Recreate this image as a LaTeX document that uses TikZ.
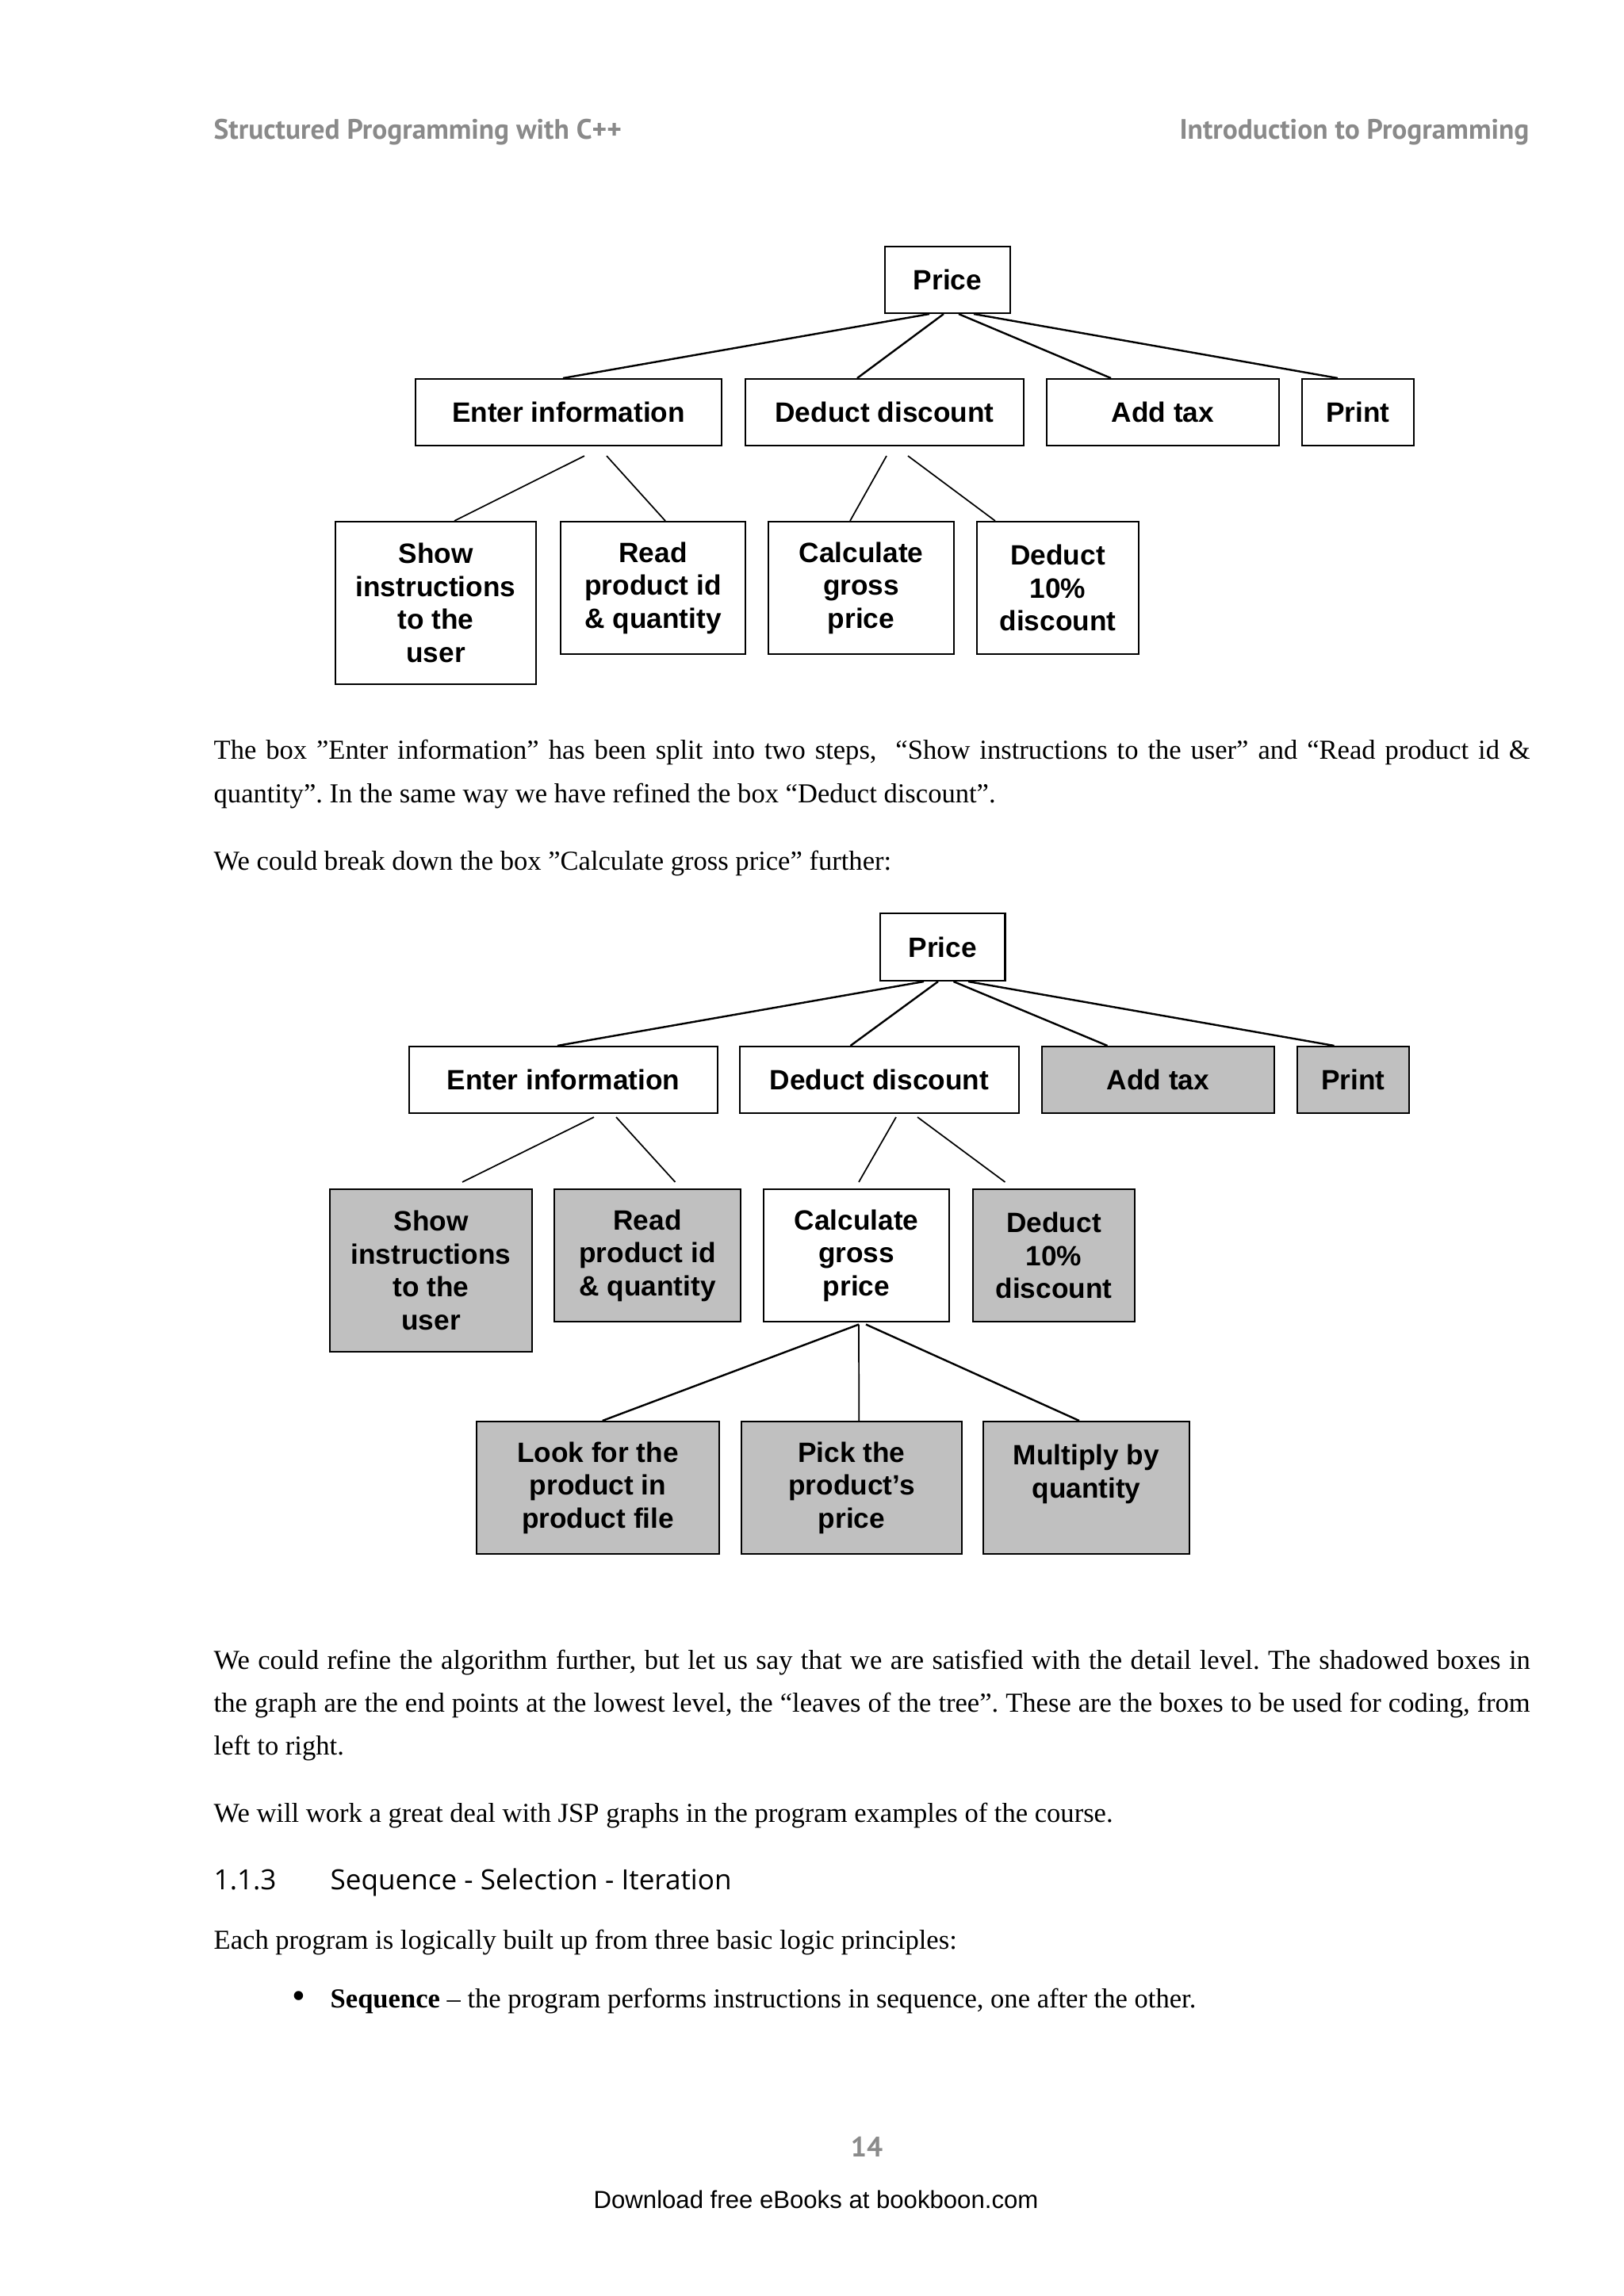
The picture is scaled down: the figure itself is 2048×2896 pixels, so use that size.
\documentclass[tikz,border=0pt]{standalone}
\usepackage{fontspec}
\setmainfont{Liberation Serif}
\newfontfamily\arialf{Liberation Sans}
\newfontfamily\hdrf{PT Sans}
\newfontfamily\headf{Open Sans}
\usetikzlibrary{calc}
\definecolor{hdrgray}{RGB}{138,138,138}
\definecolor{leafgray}{RGB}{192,192,192}
\newlength\pxu
\setlength\pxu{0.2907pt}
\newcommand\jbox[7]{%
  \node[jb,#6,minimum width={(#4-#2)*0.2907pt},minimum height={(#5-#3)*0.2907pt}]
    (#1) at ({(#2+#4)/2},{(#3+#5)/2}) {#7};}
\tikzset{
  jb/.style={draw=black,line width=0.6pt,inner sep=0pt,align=center,
    font=\arialf\bfseries\fontsize{10.25}{12.1}\selectfont},
  plain/.style={fill=white},
  leaf/.style={fill=leafgray},
  topconn/.style={line width=0.7pt},
  conn/.style={line width=0.5pt},
  body/.style={anchor=base west,inner sep=0pt,font=\fontsize{10.05}{12}\selectfont},
  hdr/.style={inner sep=0pt,text=hdrgray,font=\hdrf\bfseries\fontsize{10.3}{12}\selectfont}
}
\begin{document}
\frenchspacing
\begin{tikzpicture}[x=0.2907pt,y=-0.2907pt]
\useasboundingbox (0,0) rectangle (2048,2896);
\fill[white] (0,0) rectangle (2048,2896);

% header
\node[hdr,anchor=base west] (hl) at (269,175) {Structured Programming with C++};
\node[hdr,anchor=base east] (hr) at (1929,175) {Introduction to Programming};

\begin{scope}[shift={(-2,0)}]
% ---------- diagram 1 ----------
\jbox{p1}{1118}{311}{1276}{395}{plain}{Price}
\jbox{e1}{526}{478}{912}{562}{plain}{Enter information}
\jbox{d1}{942}{478}{1293}{562}{plain}{Deduct discount}
\jbox{a1}{1322}{478}{1615}{562}{plain}{Add tax}
\jbox{r1}{1644}{478}{1785}{562}{plain}{Print}
\jbox{s1}{425}{658}{678}{863}{plain}{Show\\instructions\\to the\\user}
\jbox{q1}{709}{658}{942}{825}{plain}{Read\\product id\\\& quantity}
\jbox{c1}{971}{658}{1205}{825}{plain}{Calculate\\gross\\price}
\jbox{t1}{1234}{658}{1438}{825}{plain}{Deduct\\10\%\\discount}

\draw[topconn] ([shift={(-23,0)}]p1.south) -- ([shift={(-7,0)}]e1.north);
\draw[topconn] ([shift={(-5,0)}]p1.south) -- ([shift={(-34.5,0)}]d1.north);
\draw[topconn] ([shift={(14,0)}]p1.south) -- ([shift={(-65.5,0)}]a1.north);
\draw[topconn] ([shift={(33,0)}]p1.south) -- ([shift={(-25.5,0)}]r1.north);
\draw[conn] ([shift={(20,12)}]e1.south) -- ([shift={(23.5,0)}]s1.north);
\draw[conn] ([shift={(48,12)}]e1.south) -- ([shift={(15.5,0)}]q1.north);
\draw[conn] ([shift={(2.5,12)}]d1.south) -- ([shift={(-14,0)}]c1.north);
\draw[conn] ([shift={(29.5,12)}]d1.south) -- ([shift={(-79,0)}]t1.north);

% ---------- diagram 2 ----------
\jbox{p2}{1112}{1152}{1269.5}{1237}{plain}{Price}
\jbox{e2}{518}{1320}{907}{1404}{plain}{Enter information}
\jbox{d2}{935}{1320}{1287}{1404}{plain}{Deduct discount}
\jbox{a2}{1316}{1320}{1609}{1404}{leaf}{Add tax}
\jbox{r2}{1638}{1320}{1779}{1404}{leaf}{Print}
\jbox{s2}{418}{1500}{673}{1705}{leaf}{Show\\instructions\\to the\\user}
\jbox{q2}{701}{1500}{936}{1667}{leaf}{Read\\product id\\\& quantity}
\jbox{c2}{965}{1500}{1199}{1667}{plain}{Calculate\\gross\\price}
\jbox{t2}{1229}{1500}{1433}{1667}{leaf}{Deduct\\10\%\\discount}
\jbox{lk}{603}{1793}{909}{1960}{leaf}{Look for the\\product in\\product file}
\jbox{pk}{937}{1793}{1215}{1960}{leaf}{Pick the\\product’s\\price}
\jbox{mq}{1242}{1793}{1502}{1960}{leaf}{Multiply by\\quantity\\\mbox{}}

\draw[topconn] ([shift={(-23.75,0)}]p2.south) -- ([shift={(-7.5,0)}]e2.north);
\draw[topconn] ([shift={(-5.75,0)}]p2.south) -- ([shift={(-36.5,0)}]d2.north);
\draw[topconn] ([shift={(13.75,0)}]p2.south) -- ([shift={(-64,0)}]a2.north);
\draw[topconn] ([shift={(32.25,0)}]p2.south) -- ([shift={(-24,0)}]r2.north);
\draw[conn] ([shift={(38.5,4)}]e2.south) -- ([shift={(39.5,-8)}]s2.north);
\draw[conn] ([shift={(66.5,4)}]e2.south) -- ([shift={(35,-8)}]q2.north);
\draw[conn] ([shift={(21,4)}]d2.south) -- ([shift={(3,-8)}]c2.north);
\draw[conn] ([shift={(48,4)}]d2.south) -- ([shift={(-61.5,-8)}]t2.north);
\draw[topconn] ([shift={(3,2.5)}]c2.south) -- ([shift={(5.7,0)}]lk.north);
\draw[conn] ([shift={(3,2.5)}]c2.south) -- ([shift={(9.25,0)}]pk.north);
\draw[topconn] ([shift={(12,2.5)}]c2.south) -- ([shift={(-9,0)}]mq.north);
\end{scope}

% text
\node[body] (l1) at (269,957) {\makebox[1660\pxu][s]{The box ”Enter information” has been split into two steps,\ \ “Show instructions to the user” and “Read product id \&}};
\node[body] (l2) at (269,1012) {quantity”. In the same way we have refined the box “Deduct discount”.};
\node[body] (l3) at (269,1097) {We could break down the box ”Calculate gross price” further:};

\node[body] (m1) at (269,2105) {\makebox[1660\pxu][s]{We could refine the algorithm further, but let us say that we are satisfied with the detail level. The shadowed boxes in}};
\node[body] (m2) at (269,2159) {\makebox[1660\pxu][s]{the graph are the end points at the lowest level, the “leaves of the tree”. These are the boxes to be used for coding, from}};
\node[body] (m3) at (269,2213) {left to right.};
\node[body] (m4) at (269,2298) {We will work a great deal with JSP graphs in the program examples of the course.};

\node[anchor=base west,inner sep=0pt,font=\headf\fontsize{10.2}{12}\selectfont] (hn) at (269,2383) {1.1.3};
\node[anchor=base west,inner sep=0pt,font=\headf\fontsize{10.2}{12}\selectfont] (ht) at (416,2383) {Sequence - Selection - Iteration};

\node[body] (m5) at (269,2458) {Each program is logically built up from three basic logic principles:};
\node[body,font=\fontsize{14}{14}\selectfont] (bu) at (368,2533) {•};
\node[body] (m6) at (416,2532) {\textbf{Sequence} – the program performs instructions in sequence, one after the other.};

% footer
\node[hdr,anchor=base] (pg) at (1093,2720) {14};
\node[anchor=base west,inner sep=0pt,font=\arialf\fontsize{9.05}{11}\selectfont] (dl) at (748,2785) {Download free eBooks at bookboon.com};
\end{tikzpicture}
\end{document}
